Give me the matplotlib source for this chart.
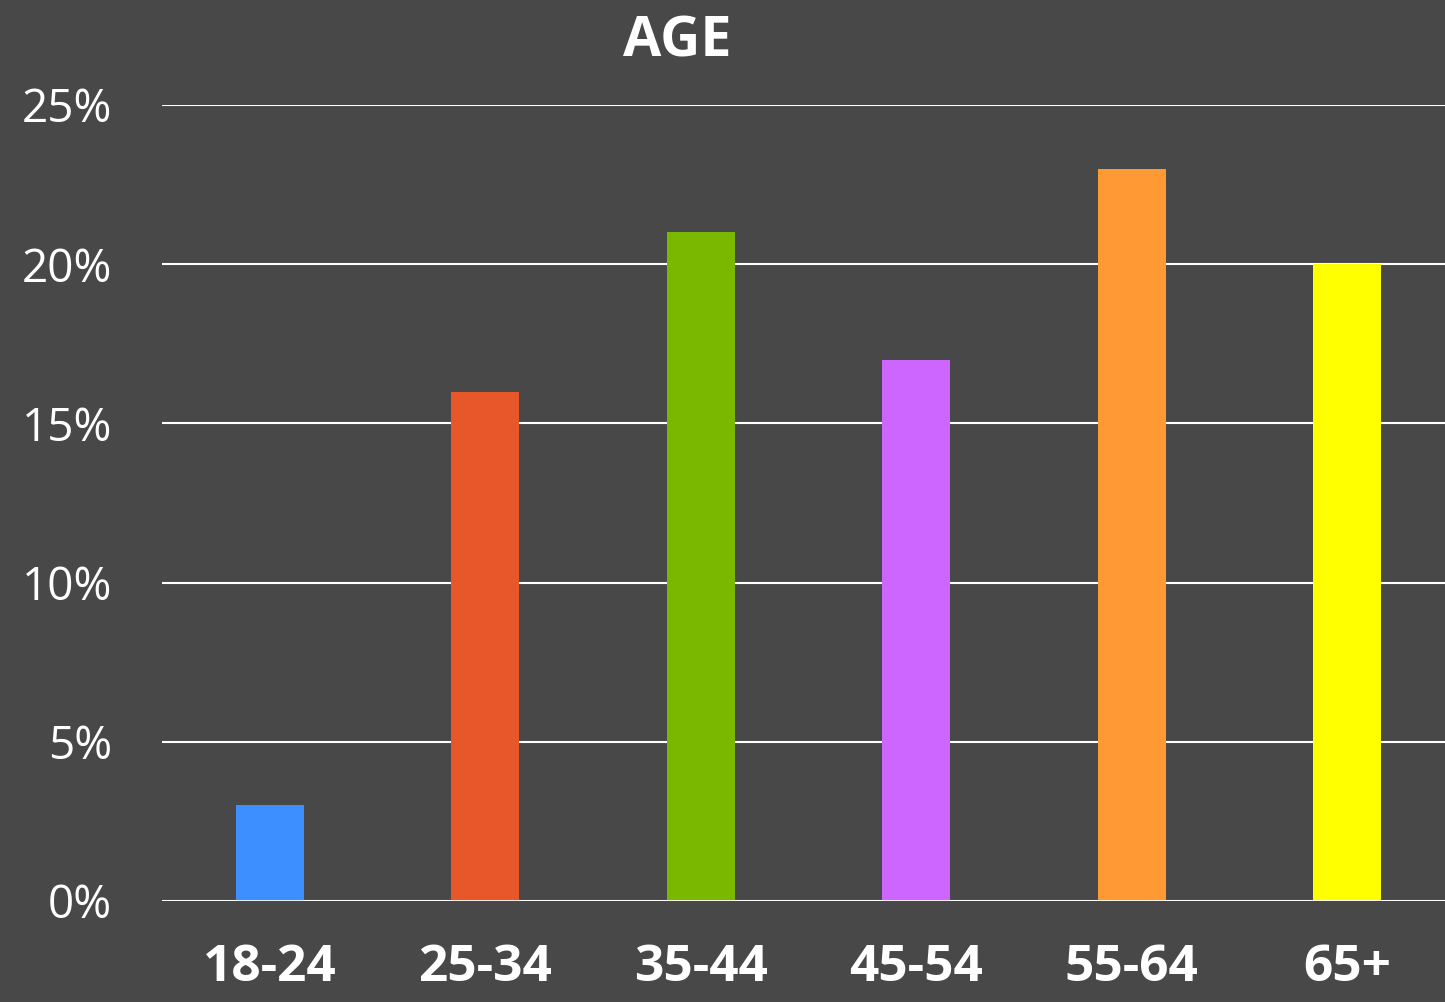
import matplotlib
matplotlib.use('Agg')
import matplotlib.pyplot as plt
import numpy as np

categories = ['18-24', '25-34', '35-44', '45-54', '55-64', '65+']
values = [3, 16, 21, 17, 23, 20]
colors = ['#3d8eff', '#e8572a', '#7ab800', '#cc66ff', '#ff9933', '#ffff00']
yticks = [0, 5, 10, 15, 20, 25]

bg = '#484848'
plt.rcParams['font.family'] = ['Open Sans', 'DejaVu Sans']

fig = plt.figure(figsize=(14.45, 10.02), dpi=100, facecolor=bg)
W, H = 1445, 1002
left, right = 162 / W, 1455 / W
bottom, top = (H - 901) / H, (H - 105) / H
ax = fig.add_axes([left, bottom, right - left, top - bottom])
ax.set_facecolor(bg)

x = np.arange(len(categories))
ax.bar(x, values, width=0.316, color=colors, zorder=3)

ax.set_xlim(-0.5, len(categories) - 0.5)
ax.set_ylim(0, 25)
ax.set_yticks(yticks)
ax.set_yticklabels([f'{v}%' for v in yticks], fontsize=33, color='white')
ax.set_xticks(x)
ax.set_xticklabels(categories, fontsize=37, fontweight='bold', color='white')
ax.tick_params(axis='both', length=0)
ax.tick_params(axis='y', pad=36)
ax.tick_params(axis='x', pad=30)

ax.grid(axis='y', color='white', linewidth=1.5, zorder=0)
ax.set_axisbelow(True)
for s in ax.spines.values():
    s.set_visible(False)
ax.axhline(0, color='white', linewidth=2, zorder=4)

fig.text(677 / W, (H - 42) / H, 'AGE', ha='center', va='center',
         fontsize=40, fontweight='bold', color='white')

fig.savefig('out.png', dpi=100, facecolor=bg)
